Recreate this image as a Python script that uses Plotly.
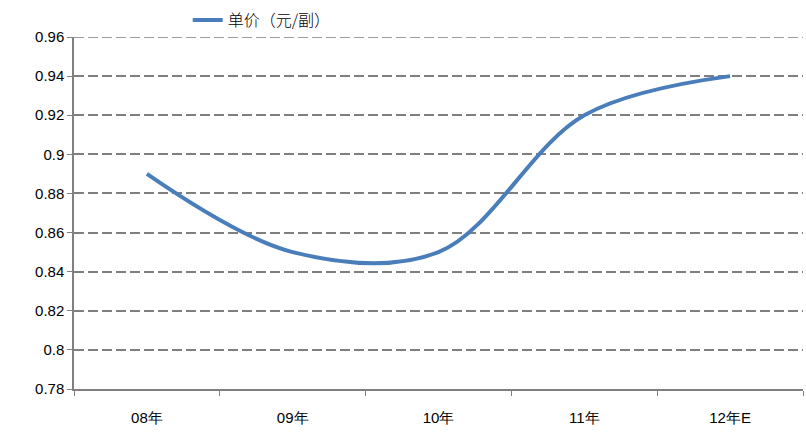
import plotly.graph_objects as go

# Unit price by year
years = ["08年", "09年", "10年", "11年", "12年E"]
price = [0.89, 0.85, 0.85, 0.92, 0.94]
y_ticks = [0.78, 0.80, 0.82, 0.84, 0.86, 0.88, 0.90, 0.92, 0.94, 0.96]
y_tick_text = ["0.78", "0.8", "0.82", "0.84", "0.86", "0.88", "0.9", "0.92", "0.94", "0.96"]
series_name = "单价（元/副）"
y_min, y_max = 0.78, 0.96

grid_color = "#7f7f7f"

fig = go.Figure()
fig.add_trace(go.Scatter(
    x=years, y=price, mode="lines", name=series_name,
    line=dict(color="#4A7EBB", width=4, shape="spline", smoothing=1.0),
))

fig.update_layout(
    width=806, height=432,
    margin=dict(l=74, r=3, t=37, b=43),
    paper_bgcolor="white", plot_bgcolor="white",
    font=dict(family="Liberation Sans, Arial, sans-serif", size=13, color="#000000"),
    showlegend=True,
    legend=dict(
        orientation="h", x=0.156, y=1.0, xanchor="left", yanchor="bottom",
        itemwidth=30,
        font=dict(family="Noto Sans CJK SC", size=16, color="#000", weight=300),
        bgcolor="rgba(0,0,0,0)", tracegroupgap=0,
    ),
)

fig.update_xaxes(
    type="category", range=[-0.5, 4.5],
    tickson="boundaries", ticks="outside", ticklen=5, tickcolor="#808080",
    showline=True, linecolor="#808080", linewidth=1.5,
    showgrid=False, ticklabelstandoff=14,
    tickfont=dict(size=15),
)

fig.update_yaxes(
    range=[y_min, y_max], tickvals=y_ticks, ticktext=y_tick_text,
    ticks="outside", ticklen=5, tickcolor="#808080",
    showline=True, linecolor="#808080", linewidth=1.5,
    showgrid=True, gridcolor=grid_color, gridwidth=1.5, griddash="10px,4px",
    zeroline=False, tickfont=dict(size=15),
)

# dashed gridline along the top edge of the plot area
fig.add_hline(y=y_max, line=dict(color=grid_color, width=1.5, dash="10px,4px"),
              layer="below")

fig.write_html("out.html")
